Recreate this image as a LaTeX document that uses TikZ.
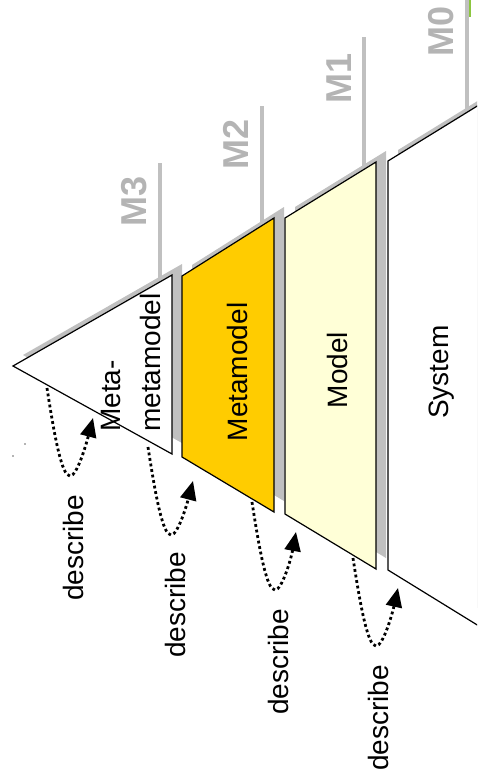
\documentclass[tikz,border=0pt]{standalone}
\usepackage{fontspec}
\setmainfont{Liberation Sans}
\usetikzlibrary{arrows.meta,calc}
\definecolor{shadowgray}{HTML}{C0C0C0}
\definecolor{labelgray}{HTML}{B4B4B4}
\definecolor{metaorange}{HTML}{FFCC00}
\definecolor{modelyellow}{HTML}{FFFFD7}
\definecolor{tickgreen}{HTML}{8CC63F}
\begin{document}
\begin{tikzpicture}[x=1pt,y=-1pt,
  shadowfill/.style={fill=shadowgray, draw=none},
  shapeline/.style={draw=black, line width=1.2pt, line join=miter},
  levelline/.style={draw=shadowgray, line width=3.8pt},
  levellabel/.style={text=labelgray, font=\fontsize{36}{36}\selectfont\bfseries, rotate=90, anchor=base, inner sep=0pt},
  boxlabel/.style={font=\fontsize{28}{28}\selectfont, rotate=90, anchor=base, inner sep=0pt},
  describearrow/.style={line width=2.8pt, dash pattern=on 2.8pt off 2.8pt, -{Triangle[length=19pt,width=16pt]}}
]
\useasboundingbox (0,0) rectangle (477,782);
\begin{scope}
\clip (0,0) rectangle (477,782);
% shape corners
\coordinate (ta) at (13,366);  \coordinate (tt) at (172,275); \coordinate (tb) at (172,454);
\coordinate (m2a) at (182,276); \coordinate (m2b) at (274,218); \coordinate (m2c) at (274,512); \coordinate (m2d) at (182,457);
\coordinate (m1a) at (285,218); \coordinate (m1b) at (376,162); \coordinate (m1c) at (376,569); \coordinate (m1d) at (285,514);
\coordinate (s0a) at (388,161); \coordinate (s0b) at (500,92); \coordinate (s0c) at (500,639); \coordinate (s0d) at (388,570);
% level lines
\draw[levelline] (160,163) -- (160,285);
\draw[levelline] (262,106) -- (262,228);
\draw[levelline] (364,37) -- (364,170);
\draw[levelline] (467,-2) -- (467,112);
\draw[tickgreen, line width=2pt] (470,-2) -- (470,17);
% shadows
\fill[shadowfill] ($(ta)+(10,-11)$) -- ($(tt)+(10,-11)$) -- ($(tb)+(10,-11)$) -- cycle;
\fill[shadowfill] ($(m2a)+(10,-11)$) -- ($(m2b)+(10,-11)$) -- ($(m2c)+(10,-11)$) -- ($(m2d)+(10,-11)$) -- cycle;
\fill[shadowfill] ($(m1a)+(10,-11)$) -- ($(m1b)+(10,-11)$) -- ($(m1c)+(10,-11)$) -- ($(m1d)+(10,-11)$) -- cycle;
\fill[shadowfill] ($(s0a)+(10,-11)$) -- ($(s0b)+(10,-11)$) -- ($(s0c)+(10,-11)$) -- ($(s0d)+(10,-11)$) -- cycle;
% shapes
\filldraw[shapeline, fill=white] (ta) -- (tt) -- (tb) -- cycle;
\filldraw[shapeline, fill=metaorange] (m2a) -- (m2b) -- (m2c) -- (m2d) -- cycle;
\filldraw[shapeline, fill=modelyellow] (m1a) -- (m1b) -- (m1c) -- (m1d) -- cycle;
\fill[white] (s0a) -- (s0b) -- (s0c) -- (s0d) -- cycle;
\draw[shapeline] (s0b) -- (s0a) -- (s0d) -- (s0c);
% small marks
\fill[labelgray] (24,443) rectangle (26,444.5);
\fill[labelgray] (12,455) rectangle (14,456.5);
\end{scope}
% level labels
\node[levellabel] (lm3) at (146,201) {M3};
\node[levellabel] (lm2) at (248,144) {M2};
\node[levellabel] (lm1) at (351,78) {M1};
\node[levellabel] (lm0) at (453,31) {M0};
% box labels
\node[font=\fontsize{28}{40}\selectfont, rotate=90, align=left, anchor=south west, inner sep=0pt] (lmm) at (161,432) {Meta-\\metamodel};
\node[boxlabel] (lmeta) at (247,372) {Metamodel};
\node[boxlabel] (lmodel) at (347,370) {Model};
\node[boxlabel] (lsys) at (448,372) {System};
% describe arrows
\coordinate (d1s) at (47,388);  \coordinate (d1t) at (93,418);
\coordinate (d2s) at (148,447); \coordinate (d2t) at (193,481);
\coordinate (d3s) at (252,502); \coordinate (d3t) at (296,532);
\coordinate (d4s) at (353,558); \coordinate (d4t) at (398,588);
\foreach \i in {1,2,3,4}{
  \draw[describearrow] (d\i s) .. controls ($(d\i s)+(8,52)$) and ($(d\i s)+(15,88)$) .. ($(d\i s)+(23,88)$)
     .. controls ($(d\i s)+(30,88)$) and ($(d\i s)+(39,57)$) .. (d\i t);
}
\node[boxlabel] (ld1) at (83,548) {describe};
\node[boxlabel] (ld2) at (185,605) {describe};
\node[boxlabel] (ld3) at (288,662) {describe};
\node[boxlabel] (ld4) at (388,718) {describe};
\end{tikzpicture}
\end{document}
